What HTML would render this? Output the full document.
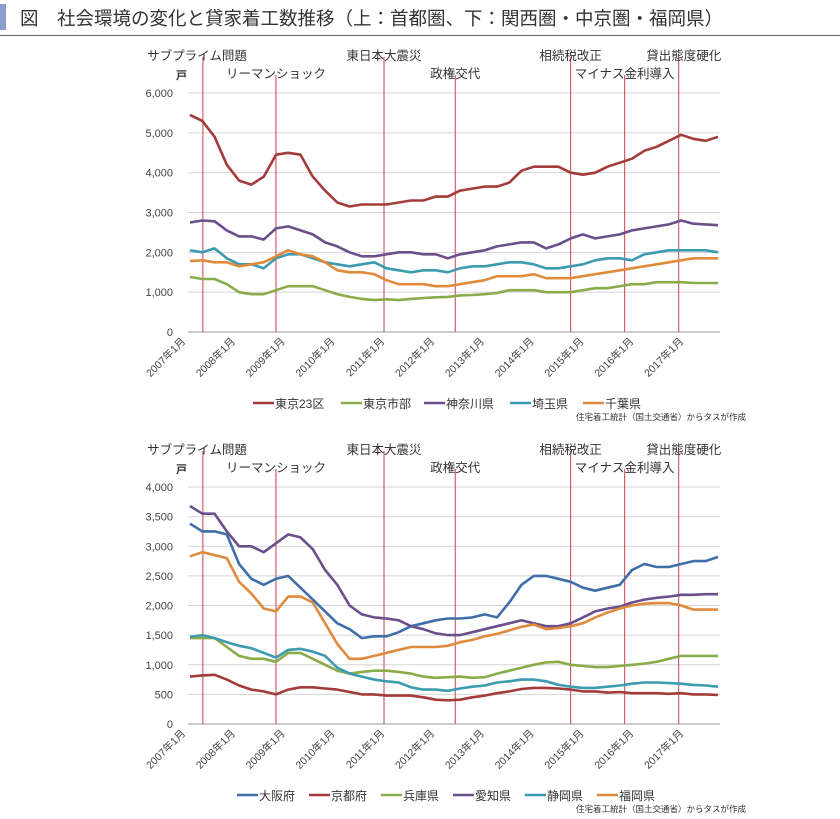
<!DOCTYPE html>
<html><head><meta charset="utf-8"><style>
body{margin:0;background:#fff;width:840px;height:814px;overflow:hidden;font-family:"Liberation Sans","Noto Sans CJK JP",sans-serif;}
svg text{font-family:"Liberation Sans","Noto Sans CJK JP",sans-serif;}
</style></head><body>
<svg id="root" width="840" height="814" xmlns="http://www.w3.org/2000/svg">
<rect x="0" y="4" width="6" height="26" fill="#8c9ccf"/>
<text x="20" y="25" font-size="18.5" fill="#333">図　社会環境の変化と貸家着工数推移（上：首都圏、下：関西圏・中京圏・福岡県）</text>
<line x1="0" y1="35.5" x2="840" y2="35.5" stroke="#777" stroke-width="1.2"/>
<g id="c1"></g>
<g id="c2"></g>
</svg>
<script>
const NS="http://www.w3.org/2000/svg";
const xLabels=["2007年1月","2008年1月","2009年1月","2010年1月","2011年1月","2012年1月","2013年1月","2014年1月","2015年1月","2016年1月","2017年1月"];
const eventNames=["サブプライム問題","リーマンショック","東日本大震災","政権交代","相続税改正","マイナス金利導入","貸出態度硬化"];
const eventIdx=[1.05,7.0,15.8,21.6,31.0,35.4,39.8]; // quarter index
const eventRow=[0,1,0,1,0,1,0];
// chart 1 (quarterly, 2007Q1..2017Q4)
const s1Names=["東京23区","東京市部","神奈川県","埼玉県","千葉県"];
const s1Colors=["#a33b3a","#8aab4a","#6b4f8c","#3b9bb0","#e08a3c"];
const tokyo23=[5450,5300,4900,4200,3800,3700,3900,4450,4500,4450,3900,3550,3250,3150,3200,3200,3200,3250,3300,3300,3400,3400,3550,3600,3650,3650,3750,4050,4150,4150,4150,4000,3950,4000,4150,4250,4350,4550,4650,4800,4950,4850,4800,4900];
const tokyoShibu=[1380,1330,1330,1200,1000,950,950,1050,1150,1150,1150,1050,950,880,830,800,820,800,830,850,870,880,920,930,950,980,1050,1050,1050,1000,1000,1000,1050,1100,1100,1150,1200,1200,1250,1250,1250,1230,1230,1230];
const kanagawa=[2750,2800,2780,2550,2400,2400,2320,2600,2650,2550,2450,2250,2150,2000,1900,1900,1950,2000,2000,1950,1950,1850,1950,2000,2050,2150,2200,2250,2250,2100,2200,2350,2450,2350,2400,2450,2550,2600,2650,2700,2800,2720,2700,2680];
const saitama=[2050,2000,2100,1850,1700,1700,1600,1850,1950,1950,1850,1750,1700,1650,1700,1750,1600,1550,1500,1550,1550,1500,1600,1650,1650,1700,1750,1750,1700,1600,1600,1650,1700,1800,1850,1850,1800,1950,2000,2050,2050,2050,2050,2000];
const chiba=[1780,1800,1750,1750,1650,1700,1750,1900,2050,1950,1900,1750,1550,1500,1500,1450,1300,1200,1200,1200,1150,1150,1200,1250,1300,1400,1400,1400,1450,1350,1350,1350,1400,1450,1500,1550,1600,1650,1700,1750,1800,1850,1850,1850];
// chart 2
const s2Names=["大阪府","京都府","兵庫県","愛知県","静岡県","福岡県"];
const s2Colors=["#3f6fa8","#a33b3a","#8aab4a","#6b4f8c","#3b9bb0","#e08a3c"];
const osaka=[3380,3250,3250,3200,2700,2450,2350,2450,2500,2300,2100,1900,1700,1600,1450,1480,1480,1550,1650,1700,1750,1780,1780,1800,1850,1800,2050,2350,2500,2500,2450,2400,2300,2250,2300,2350,2600,2700,2650,2650,2700,2750,2750,2820];
const kyoto=[800,820,830,750,650,580,550,500,580,620,620,600,580,540,500,500,480,480,480,450,410,400,410,450,480,520,550,590,610,610,600,580,550,550,530,540,520,520,520,510,520,500,500,490];
const hyogo=[1450,1450,1450,1300,1150,1100,1100,1050,1200,1200,1100,1000,900,850,880,900,900,880,850,800,780,790,800,780,790,850,900,950,1000,1040,1050,1000,980,960,960,980,1000,1020,1050,1100,1150,1150,1150,1150];
const aichi=[3680,3550,3550,3250,3000,3000,2900,3050,3200,3150,2950,2600,2350,2000,1850,1800,1780,1750,1650,1600,1530,1500,1500,1550,1600,1650,1700,1750,1700,1650,1650,1700,1800,1900,1950,1980,2050,2100,2130,2150,2180,2180,2190,2190];
const shizuoka=[1470,1500,1450,1380,1320,1280,1200,1120,1250,1270,1220,1150,950,850,800,750,720,700,620,580,580,560,600,630,650,700,720,750,750,720,660,630,610,610,630,650,680,700,700,690,680,660,650,630];
const fukuoka=[2830,2900,2850,2800,2400,2200,1950,1900,2150,2150,2050,1700,1350,1100,1100,1150,1200,1250,1300,1300,1300,1320,1380,1420,1480,1520,1580,1640,1680,1600,1620,1650,1700,1800,1880,1950,2000,2030,2040,2040,2000,1930,1930,1930];
const yTicks1=[0,1000,2000,3000,4000,5000,6000];
const yTicks2=[0,500,1000,1500,2000,2500,3000,3500,4000];

function el(tag,attrs,parent,txt){const e=document.createElementNS(NS,tag);for(const k in attrs)e.setAttribute(k,attrs[k]);if(txt!==undefined)e.textContent=txt;parent.appendChild(e);return e;}

function drawChart(g,cfg){
  const X0=188,X1=720,y0=cfg.y0,yTop=cfg.yTop,max=cfg.max;
  const yS=v=>y0-(v/max)*(y0-yTop);
  const xS=k=>190+k*(718-190)/43;
  cfg.ticks.forEach(t=>{
    if(t>0){const gl=el('line',{x1:X0,x2:X1,y1:yS(t),y2:yS(t),stroke:'#d4d4d4','stroke-width':1},g);
    
    }
    const tl=el('text',{x:173,y:yS(t)+4,'font-size':11,fill:'#444','text-anchor':'end'},g,t.toLocaleString('en-US'));
    
    
  });
  const ax=el('line',{x1:X0,x2:X1,y1:y0,y2:y0,stroke:'#999','stroke-width':1},g);
  
  
  const unit=el('text',{x:176,y:yTop-14,'font-size':11,'font-weight':'bold',fill:'#333'},g,'戸');
  
  
  eventIdx.forEach((e,i)=>{
    const x=xS(e);
    const top=eventRow[i]===0?yTop-36:yTop-18;
    const l=el('line',{x1:x,x2:x,y1:top,y2:y0,stroke:'#c8404a','stroke-width':1},g);
    
    
    const ty=eventRow[i]===0?yTop-33:yTop-15;
    const anchor=i===0?'end':'middle';
    const tx=i===0?x+44:(i===6?x+5:x);
    const t=el('text',{x:tx,y:ty,'font-size':12.5,fill:'#333','text-anchor':anchor},g,eventNames[i]);
    
    
  });
  xLabels.forEach((lab,i)=>{
    const x=186+i*49.8, y=y0+10;
    const t=el('text',{x:x,y:y,'font-size':10.5,fill:'#444','text-anchor':'end',transform:`rotate(-45 ${x} ${y})`},g,lab);
    
    
  });
  cfg.series.forEach((s,si)=>{
    const d=s.map((v,k)=>(k?'L':'M')+xS(k).toFixed(1)+','+yS(v).toFixed(1)).join('');
    const p=el('path',{d:d,fill:'none',stroke:cfg.colors[si],'stroke-width':2.6,'stroke-linejoin':'round'},g);
    
    
  });
  cfg.names.forEach((n,i)=>{
    const lx=cfg.legX[i], ly=cfg.legY;
    const lg=el('g',{},g);
    
    
    el('line',{x1:lx,x2:lx+21,y1:ly,y2:ly,stroke:cfg.colors[i],'stroke-width':2.6},lg);
    el('text',{x:lx+22,y:ly+5,'font-size':12,fill:'#333'},lg,n);
  });
  const src=el('text',{x:746,y:cfg.legY+17,'font-size':8.5,fill:'#333','text-anchor':'end'},g,'住宅着工統計（国土交通省）からタスが作成');
  
  
}
drawChart(document.getElementById('c1'),{y0:332,yTop:93,max:6000,ticks:yTicks1,series:[tokyo23,tokyoShibu,kanagawa,saitama,chiba],colors:s1Colors,names:s1Names,legX:[253,341,424,510,583],legY:403});
drawChart(document.getElementById('c2'),{y0:724,yTop:487,max:4000,ticks:yTicks2,series:[osaka,kyoto,hyogo,aichi,shizuoka,fukuoka],colors:s2Colors,names:s2Names,legX:[237,309,381,453,525,597],legY:795});
</script>
</body></html>
